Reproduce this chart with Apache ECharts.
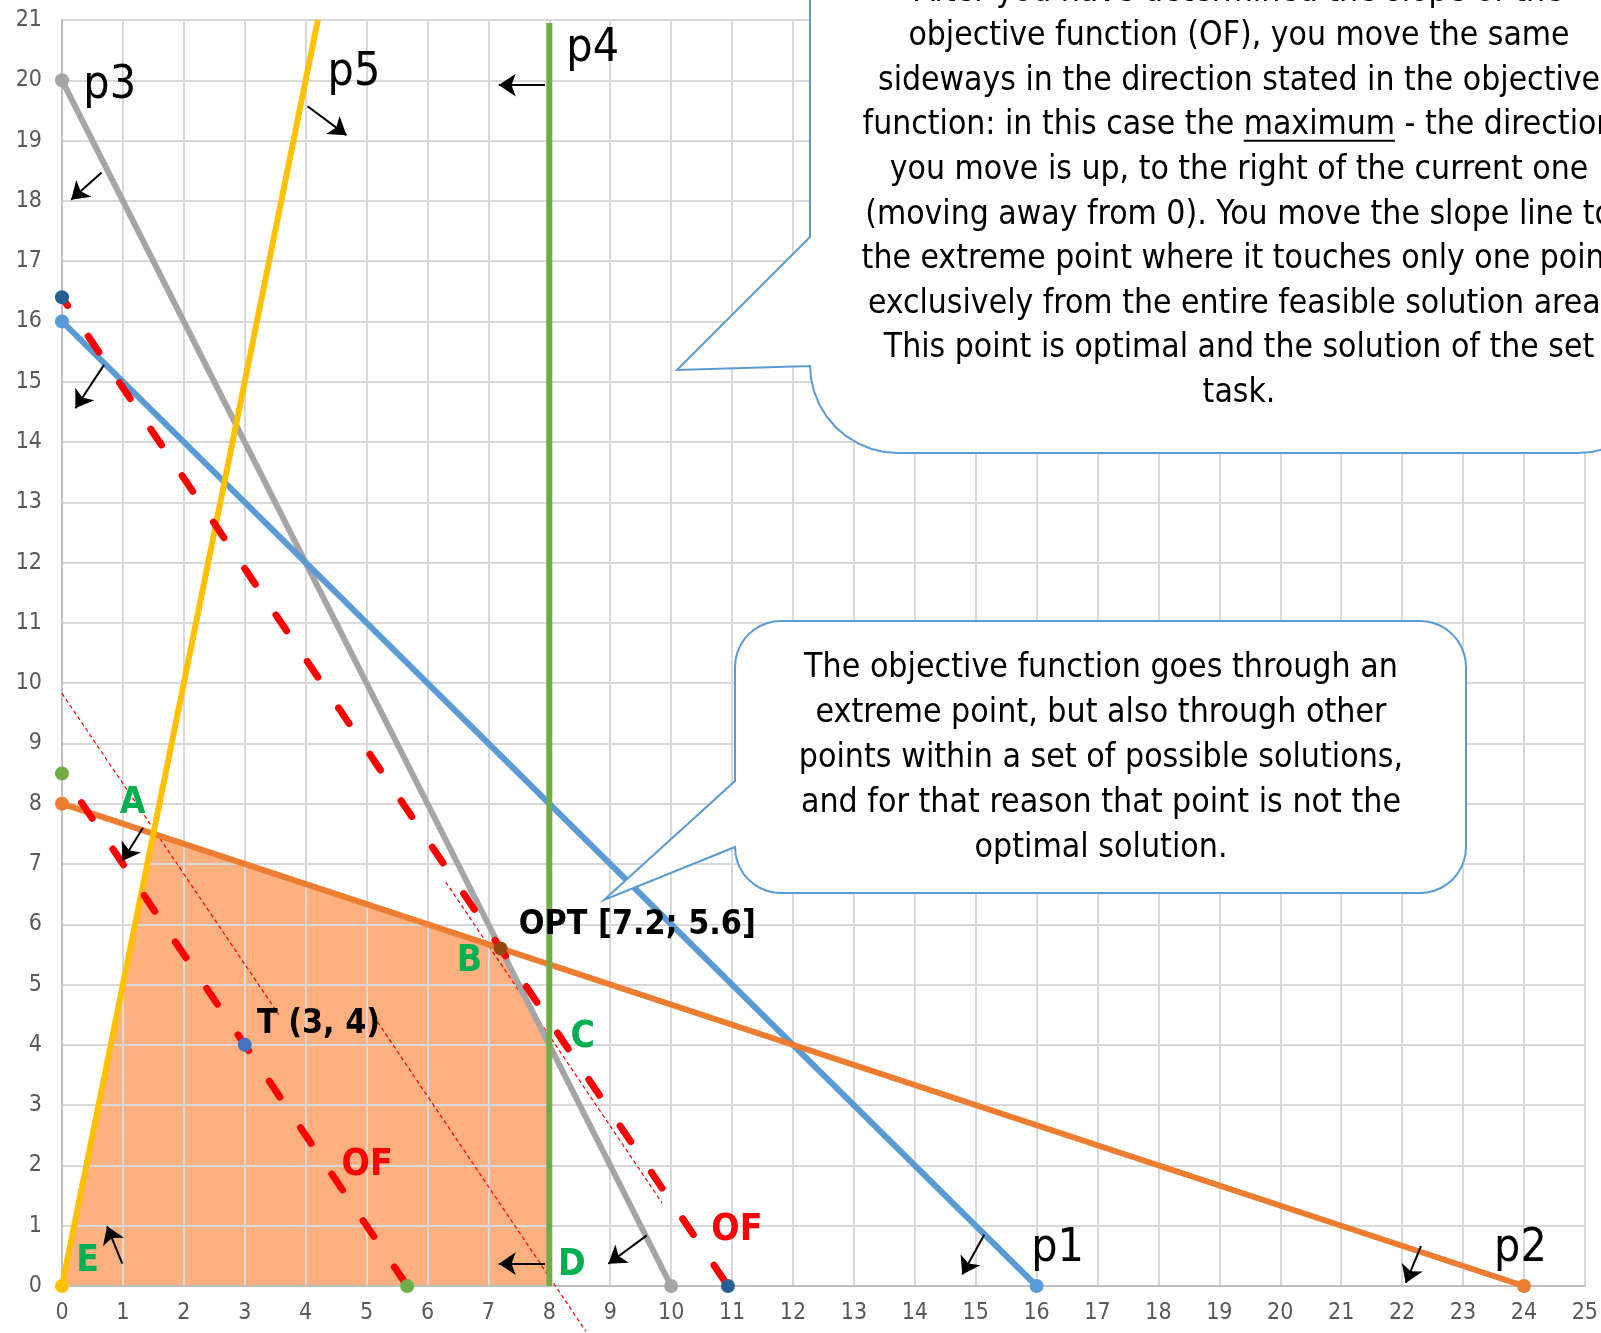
<!DOCTYPE html>
<html>
<head>
<meta charset="utf-8">
<script src="https://cdn.jsdelivr.net/npm/echarts@6/dist/echarts.min.js"></script>
<style>
  html, body { margin: 0; padding: 0; background: #fff; }
  #main { width: 1601px; height: 1333px; }
</style>
</head>
<body>
<div id="main"></div>
<script>
// constraint lines (end points)
var p1Line = [[0, 16], [16, 0]];
var p2Line = [[0, 8], [24, 0]];
var p3Line = [[0, 20], [10, 0]];
var p4Line = [[8, 0], [8, 20.95]];
var p5Line = [[0, 0], [4.2, 21]];

// objective function lines
var ofThroughT = [[0, 8.5], [5.667, 0]];
var ofThroughOpt = [[0, 16.4], [10.933, 0]];

// feasible region corners E, A, B, C, D
var feasible = [[0, 0], [1.5, 7.5], [7.2, 5.6], [8, 4], [8, 0]];

var pointT = [3, 4];
var pointOpt = [7.2, 5.6];

// thin dotted helper lines
var guideLines = [
  [[0, 9.83], [3.56, 4.5]],
  [[5.18, 4.38], [8.6, -0.75]],
  [[6.3, 6.7], [9.85, 1.38]]
];

// direction arrows [from, to]
var arrows = [
  [[0.65, 18.47], [0.15, 18.02]],
  [[4.03, 19.57], [4.67, 19.09]],
  [[7.93, 19.92], [7.17, 19.92]],
  [[0.69, 15.28], [0.22, 14.56]],
  [[1.33, 7.6], [0.99, 7.05]],
  [[0.99, 0.37], [0.74, 0.99]],
  [[7.93, 0.37], [7.17, 0.37]],
  [[9.6, 0.84], [8.97, 0.37]],
  [[15.14, 0.85], [14.78, 0.19]],
  [[22.31, 0.66], [22.06, 0.05]]
];

var constraintNames = ['p1', 'p2', 'p3', 'p4', 'p5'];
var constraintLabelAt = [[15.91, 0.61], [23.51, 0.61], [0.35, 19.9], [8.28, 20.52], [4.36, 20.12]];

var cornerNames = ['A', 'B', 'C', 'D', 'E'];
var cornerLabelAt = [[1.16, 8.01], [6.69, 5.39], [8.55, 4.12], [8.37, 0.34], [0.42, 0.41]];

var pointNames = ['OPT [7.2; 5.6]', 'T (3, 4)'];
var pointLabelAt = [[7.5, 5.99], [3.2, 4.35]];

var ofNames = ['OF', 'OF'];
var ofLabelAt = [[4.59, 2.0], [10.66, 0.93]];

var bubbleOneLines = [
  'After you have determined the slope of the',
  'objective function (OF), you move the same',
  'sideways in the direction stated in the objective',
  'function: in this case the maximum - the direction',
  'you move is up, to the right of the current one',
  '(moving away from 0). You move the slope line to',
  'the extreme point where it touches only one point',
  'exclusively from the entire feasible solution area.',
  'This point is optimal and the solution of the set',
  'task.'
];
var bubbleTwoLines = [
  'The objective function goes through an',
  'extreme point, but also through other',
  'points within a set of possible solutions,',
  'and for that reason that point is not the',
  'optimal solution.'
];

var FONT = "'Liberation Sans Narrow', 'DejaVu Sans Condensed', sans-serif";
var ctx = document.createElement('canvas').getContext('2d');
function measure(text, size, weight) {
  ctx.font = (weight || 'normal') + ' ' + size + 'px ' + FONT;
  return ctx.measureText(text).width;
}
// pick font sizes so text widths match the picture
function fitSize(text, target, weight) {
  return 100 * target / measure(text, 100, weight);
}
var bubbleFont = fitSize(bubbleOneLines[1], 661);
var bubbleFont2 = fitSize(bubbleTwoLines[2], 604);
var boldFont = fitSize(pointNames[0], 237, 'bold');
var letterFont = boldFont * 1.1;
var pFont = fitSize('p1', 48) * 1.1;

// quarter circle points, angles in degrees, screen coords
function arc(cx, cy, r, a0, a1) {
  var pts = [];
  for (var i = 0; i <= 10; i++) {
    var a = (a0 + (a1 - a0) * i / 10) * Math.PI / 180;
    pts.push([cx + r * Math.cos(a), cy + r * Math.sin(a)]);
  }
  return pts;
}

function lineSeries(data, color, width, symbolColor) {
  return {
    type: 'line',
    data: data,
    symbol: 'circle',
    symbolSize: 14,
    showSymbol: true,
    itemStyle: { color: symbolColor || color },
    lineStyle: { color: color, width: width },
    silent: true
  };
}

function dashedSeries(data, symbolColor, offset) {
  var s = lineSeries(data, '#ff0000', 7, symbolColor);
  s.lineStyle.type = [19, 37];
  s.lineStyle.dashOffset = offset;
  s.lineStyle.cap = 'round';
  return s;
}

function labelSeries(names, coords, label) {
  return {
    type: 'scatter',
    symbolSize: 0,
    itemStyle: { color: 'rgba(0,0,0,0)', opacity: 1 },
    data: names.map(function (n, i) { return { name: n, value: coords[i] }; }),
    label: Object.assign({ show: true, formatter: '{b}', fontFamily: FONT }, label),
    silent: true,
    z: 6
  };
}

var bubbles = [];
// big callout, top right
var b1 = [[810, -60], [810, 237], [677, 370], [810, 366]]
  .concat(arc(898, 365, 88, 180, 90))
  .concat(arc(1578, 365, 88, 90, 0))
  .concat([[1666, -60]]);
bubbles.push({
  type: 'polygon', z: 100,
  shape: { points: b1 },
  style: { fill: '#fff', stroke: '#5b9bd5', lineWidth: 2 }
});
bubbleOneLines.forEach(function (t, i) {
  bubbles.push({
    type: 'text', z: 101,
    style: { text: t, x: 1239, y: -8 + i * 44.6, textAlign: 'center', textVerticalAlign: 'middle',
      font: bubbleFont.toFixed(1) + 'px ' + FONT, fill: '#000' }
  });
});
// underline "maximum"
(function () {
  var line = bubbleOneLines[3];
  var word = 'maximum';
  var full = measure(line, bubbleFont);
  var pre = measure(line.slice(0, line.indexOf(word)), bubbleFont);
  var w = measure(word, bubbleFont);
  var x0 = 1239 - full / 2 + pre;
  var y = -8 + 3 * 44.6 + bubbleFont * 0.45;
  bubbles.push({
    type: 'line', z: 101,
    shape: { x1: x0, y1: y, x2: x0 + w, y2: y },
    style: { stroke: '#000', lineWidth: 2 }
  });
})();
// smaller callout, middle
var b2 = arc(781, 667, 46, 180, 270)
  .concat(arc(1420, 667, 46, 270, 360))
  .concat(arc(1420, 847, 46, 0, 90))
  .concat(arc(781, 847, 46, 90, 180))
  .concat([[604, 900], [735, 781]]);
bubbles.push({
  type: 'polygon', z: 100,
  shape: { points: b2 },
  style: { fill: '#fff', stroke: '#5b9bd5', lineWidth: 2 }
});
bubbleTwoLines.forEach(function (t, i) {
  bubbles.push({
    type: 'text', z: 101,
    style: { text: t, x: 1101, y: 668 + i * 45, textAlign: 'center', textVerticalAlign: 'middle',
      font: bubbleFont2.toFixed(1) + 'px ' + FONT, fill: '#000' }
  });
});

var axisCommon = {
  type: 'value',
  min: 0,
  interval: 1,
  z: 1,
  axisLine: { show: true, lineStyle: { color: '#bfbfbf', width: 2 } },
  axisTick: { show: false },
  axisLabel: { color: '#595959', fontSize: 23, fontFamily: FONT, margin: 16 },
  splitLine: { show: true, lineStyle: { color: '#d9d9d9', width: 2 } }
};

var option = {
  animation: false,
  backgroundColor: '#fff',
  grid: { left: 62, right: 16, top: 20, bottom: 47 },
  xAxis: Object.assign({}, axisCommon, { max: 25 }),
  yAxis: Object.assign({}, axisCommon, { max: 21, axisLabel: Object.assign({}, axisCommon.axisLabel, { margin: 20 }) }),
  graphic: { elements: bubbles },
  series: [
    {
      type: 'custom',
      z: 0,
      silent: true,
      data: [[0, 0]],
      renderItem: function (params, api) {
        var pts = feasible.map(function (p) { return api.coord(p); });
        return { type: 'polygon', shape: { points: pts }, style: { fill: '#fcb07f' } };
      }
    },
    lineSeries(p3Line, '#a5a5a5', 6),
    lineSeries(p1Line, '#5b9bd5', 6),
    lineSeries(p2Line, '#ed7d31', 6),
    lineSeries([p5Line[0], { value: p5Line[1], symbol: 'none' }], '#ffc000', 6),
    Object.assign(lineSeries(p4Line, '#70ad47', 6), { symbol: 'none' }),
    {
      type: 'lines',
      coordinateSystem: 'cartesian2d',
      clip: false,
      silent: true,
      data: guideLines.map(function (c) { return { coords: c }; }),
      lineStyle: { color: '#ff0000', width: 1.2, type: [4, 3], opacity: 1 }
    },
    dashedSeries(ofThroughT, '#70ad47', 21),
    dashedSeries(ofThroughOpt, '#255e91', 9),
    {
      type: 'scatter',
      symbolSize: 14,
      silent: true,
      data: [
        { value: pointT, itemStyle: { color: '#4472c4', opacity: 1 } },
        { value: pointOpt, itemStyle: { color: '#94470f', opacity: 1 } }
      ],
      z: 5
    },
    {
      type: 'lines',
      coordinateSystem: 'cartesian2d',
      silent: true,
      symbol: ['none', 'arrow'],
      symbolSize: 17,
      data: arrows.map(function (c) { return { coords: c }; }),
      lineStyle: { color: '#000', width: 2, opacity: 1 },
      z: 5
    },
    labelSeries(constraintNames, constraintLabelAt, { position: 'right', distance: 0, fontSize: pFont, color: '#000' }),
    labelSeries(cornerNames, cornerLabelAt, { position: 'inside', fontSize: letterFont, fontWeight: 'bold', color: '#00b050' }),
    labelSeries(pointNames, pointLabelAt, { position: 'right', distance: 0, fontSize: boldFont, fontWeight: 'bold', color: '#000' }),
    labelSeries(ofNames, ofLabelAt, { position: 'right', distance: 0, fontSize: letterFont, fontWeight: 'bold', color: '#ff0000' })
  ]
};

var chart = echarts.init(document.getElementById('main'));
chart.setOption(option);
</script>
</body>
</html>
